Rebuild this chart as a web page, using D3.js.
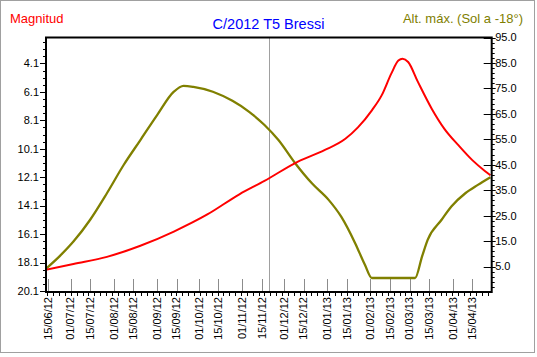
<!DOCTYPE html>
<html><head><meta charset="utf-8">
<script src="https://cdn.jsdelivr.net/npm/d3@7"></script>
<style>
body{margin:0;background:#fff}
svg{display:block}
text{font-family:"Liberation Sans",Arial,sans-serif}
</style>
</head><body>
<svg id="c" width="537" height="357"></svg>
<script>
// ---------- data ----------
const chartTitle = "C/2012 T5 Bressi";
const leftTitle = "Magnitud";
const rightTitle = "Alt. máx. (Sol a -18°)";

const magDates = ["2012-06-13","2012-07-03","2012-07-27","2012-08-20","2012-09-13","2012-10-07","2012-10-30","2012-11-17","2012-12-11","2012-12-30","2013-01-14","2013-01-23","2013-02-02","2013-02-09","2013-02-16","2013-02-21","2013-02-24","2013-02-28","2013-03-07","2013-03-17","2013-03-26","2013-04-05","2013-04-15","2013-04-24","2013-04-28"];
const magValues = [18.62,18.2,17.7,16.92,15.92,14.72,13.3,12.36,11.0,10.2,9.4,8.6,7.4,6.35,4.8,3.9,3.77,4.0,5.4,7.3,8.7,9.85,10.9,11.66,11.96];

const altDates = ["2012-06-13","2012-06-23","2012-07-03","2012-07-15","2012-07-27","2012-08-08","2012-08-20","2012-09-01","2012-09-13","2012-09-20","2012-09-27","2012-10-11","2012-10-25","2012-11-06","2012-11-17","2012-11-27","2012-12-09","2012-12-21","2013-01-02","2013-01-11","2013-01-21","2013-01-28","2013-02-02","2013-03-05","2013-03-10","2013-03-14","2013-03-24","2013-03-31","2013-04-10","2013-04-19","2013-04-28"];
const altValues = [4.0,9.0,14.8,23.4,33.8,44.9,54.7,64.5,73.7,76.0,75.6,73.7,70.1,65.8,60.6,54.7,45.6,37.7,31.2,24.6,14.2,5.7,0.5,0.5,9.0,15.5,23.4,28.6,33.8,37.1,40.1];

const xTickLabels = ["15/06/12","01/07/12","15/07/12","01/08/12","15/08/12","01/09/12","15/09/12","01/10/12","15/10/12","01/11/12","15/11/12","01/12/12","15/12/12","01/01/13","15/01/13","01/02/13","15/02/13","01/03/13","15/03/13","01/04/13","15/04/13"];
const magTicks = [4.1,6.1,8.1,10.1,12.1,14.1,16.1,18.1,20.1];
const altTicks = [5,15,25,35,45,55,65,75,85,95];
const currentDate = "2012-11-20";
const xDomain = ["2012-06-13T08:00","2013-04-28T22:00"];
const magDomain = [2.28, 20.17];
const altDomain = [-5, 95];

// ---------- layout ----------
const L = 46, R = 491.7, T = 37.5, B = 292;
const svg = d3.select("#c");
const parseISO = d3.utcParse("%Y-%m-%d");
const parseISOT = d3.utcParse("%Y-%m-%dT%H:%M");
const parseTick = d3.utcParse("%d/%m/%y");

const x = d3.scaleUtc().domain(xDomain.map(parseISOT)).range([L, R]);
const yM = d3.scaleLinear().domain(magDomain).range([T, B]);
const yA = d3.scaleLinear().domain(altDomain).range([B, T]);

// outer frame
svg.append("rect").attr("x",0.5).attr("y",0.5).attr("width",534).attr("height",352)
  .attr("fill","#fff").attr("stroke","#a0a0a0").attr("stroke-width",1);

// titles
svg.append("text").attr("x",268.5).attr("y",29).attr("text-anchor","middle")
  .attr("font-size","14.5px").attr("fill","#0000ff").text(chartTitle);
svg.append("text").attr("x",10).attr("y",23)
  .attr("font-size","13px").attr("fill","#ff0000").text(leftTitle);
svg.append("text").attr("x",523).attr("y",23).attr("text-anchor","end")
  .attr("font-size","13px").attr("fill","#808000").text(rightTitle);

// clip
svg.append("clipPath").attr("id","clip").append("rect")
  .attr("x",L).attr("y",T).attr("width",R-L).attr("height",B-T);

// gray date ticks inside the plot
const tickDates = xTickLabels.map(parseTick);
svg.append("g").selectAll("line").data(tickDates).join("line")
  .attr("x1",d=>Math.round(x(d))+0.5).attr("x2",d=>Math.round(x(d))+0.5)
  .attr("y1",B-13).attr("y2",B).attr("stroke","#8c8c8c").attr("stroke-width",1);

// current-date vertical line
const cx = Math.round(x(parseISO(currentDate)))+0.5;
svg.append("line").attr("x1",cx).attr("x2",cx).attr("y1",T).attr("y2",B)
  .attr("stroke","#a0a0a0").attr("stroke-width",1);

// curves
const magData = magDates.map((d,i)=>({d:parseISO(d), v:magValues[i]}));
const altData = altDates.map((d,i)=>({d:parseISO(d), v:altValues[i]}));
const g = svg.append("g").attr("clip-path","url(#clip)");
g.append("path").datum(altData)
  .attr("d", d3.line().x(p=>x(p.d)).y(p=>yA(p.v)).curve(d3.curveMonotoneX))
  .attr("fill","none").attr("stroke","#808000").attr("stroke-width",2.3);
g.append("path").datum(magData)
  .attr("d", d3.line().x(p=>x(p.d)).y(p=>yM(p.v)).curve(d3.curveMonotoneX))
  .attr("fill","none").attr("stroke","#ff0000").attr("stroke-width",2);

// frame
svg.append("rect").attr("x",L).attr("y",T).attr("width",R-L).attr("height",B-T)
  .attr("fill","none").attr("stroke","#000").attr("stroke-width",2);

// left axis
const magMinor = d3.range(magDomain[0]+0.32, 20.15, 0.5).filter(v=>!magTicks.some(t=>Math.abs(t-v)<0.01));
svg.append("g").selectAll("line").data(magMinor).join("line")
  .attr("x1",L-3).attr("x2",L).attr("y1",d=>Math.round(yM(d))+0.5).attr("y2",d=>Math.round(yM(d))+0.5)
  .attr("stroke","#000");
const la = svg.append("g");
la.selectAll("line").data(magTicks).join("line")
  .attr("x1",L-6).attr("x2",L).attr("y1",d=>Math.round(yM(d))+0.5).attr("y2",d=>Math.round(yM(d))+0.5)
  .attr("stroke","#000");
la.selectAll("text").data(magTicks).join("text")
  .attr("x",L-7).attr("y",d=>yM(d)).attr("dy","0.35em").attr("text-anchor","end")
  .attr("font-size","11px").attr("fill","#000").text(d=>d.toFixed(1));

// right axis
const altMinor = d3.range(-3, 95, 2).filter(v=>!altTicks.includes(v));
svg.append("g").selectAll("line").data(altMinor).join("line")
  .attr("x1",R).attr("x2",R+3).attr("y1",d=>Math.round(yA(d))+0.5).attr("y2",d=>Math.round(yA(d))+0.5)
  .attr("stroke","#000");
const ra = svg.append("g");
ra.selectAll("line.in").data(altTicks).join("line").attr("class","in")
  .attr("x1",R-8).attr("x2",R).attr("y1",d=>Math.round(yA(d))+0.5).attr("y2",d=>Math.round(yA(d))+0.5)
  .attr("stroke","#000");
ra.selectAll("line.out").data(altTicks).join("line").attr("class","out")
  .attr("x1",R).attr("x2",R+4).attr("y1",d=>Math.round(yA(d))+0.5).attr("y2",d=>Math.round(yA(d))+0.5)
  .attr("stroke","#000");
ra.selectAll("text").data(altTicks).join("text")
  .attr("x",R+3.5).attr("y",d=>yA(d)).attr("dy","0.35em")
  .attr("font-size","11px").attr("fill","#000").text(d=>d.toFixed(1));

// bottom minor ticks
const minorX = d3.range(L+1.3, R, 5.87);
svg.append("g").selectAll("line").data(minorX).join("line")
  .attr("x1",d=>Math.round(d)+0.5).attr("x2",d=>Math.round(d)+0.5).attr("y1",B).attr("y2",B+4)
  .attr("stroke","#000");

// bottom labels
svg.append("g").selectAll("text").data(xTickLabels).join("text")
  .attr("transform",(d,i)=>`translate(${x(tickDates[i])},${B+5}) rotate(-90)`)
  .attr("text-anchor","end").attr("dy","0.35em")
  .attr("font-size","11px").attr("fill","#000").text(d=>d);
</script>
</body></html>
